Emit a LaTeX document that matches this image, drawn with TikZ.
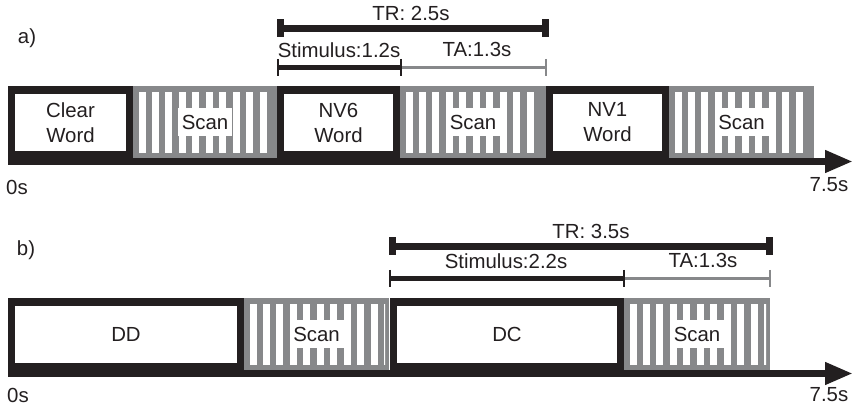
\documentclass[tikz,border=0pt]{standalone}
\usepackage{fontspec}
\setmainfont{Liberation Sans}
\usetikzlibrary{arrows.meta,calc}
\definecolor{inkblack}{HTML}{231F20}
\definecolor{scangray}{HTML}{87888A}

\begin{document}
\begin{tikzpicture}[x=0.5pt,y=-0.5pt,
  lbl/.style={font=\rmfamily\fontsize{10.2}{12.5}\selectfont,text=inkblack,inner sep=0pt},
  scanlbl/.style={lbl,fill=white,minimum width=27pt,minimum height=14pt},
  axisline/.style={inkblack,line width=3.5pt,-{Triangle[length=14pt,width=10.5pt]}},
  trbar/.style={inkblack,line width=3.5pt},
  stimbar/.style={inkblack,line width=2.5pt},
  tabar/.style={scangray,line width=1.8pt},
  tickline/.style={line width=1pt}]
  \useasboundingbox (0,0) rectangle (853,406);

  % time axes
  \coordinate (axa0) at (8,161.5);
  \coordinate (axa1) at (853,161.5);
  \coordinate (axb0) at (8,373.5);
  \coordinate (axb1) at (853,373.5);
  \draw[axisline] (axa0) -- (axa1);
  \draw[axisline] (axb0) -- (axb1);

  % stimulus blocks
  \foreach \xa/\xb/\yt/\nm/\txt in {
    8/133/86/clear/{Clear\\Word},
    277/400/86/nvsix/{NV6\\Word},
    546/669/86/nvone/{NV1\\Word},
    8/244/298/dd/{DD},
    390/624/298/dc/{DC}} {
    \fill[inkblack] (\xa,\yt) rectangle (\xb,\yt+79);
    \fill[white] (\xa+7,\yt+8) rectangle (\xb-7,\yt+65);
    \node[lbl,align=center] (\nm) at ({(\xa+\xb)/2},\yt+36.5) {\txt};
  }

  % scan blocks
  \foreach \xa/\xb/\yt/\n/\nm in {
    133/277/86/9/scanaone,
    400/546/86/9/scanatwo,
    669/814/86/9/scanathree,
    244/389/298/10/scanbone,
    624/770/298/10/scanbtwo} {
    \fill[scangray] (\xa,\yt) rectangle (\xb,\yt+72);
    \begin{scope}
      \clip (\xa,\yt) rectangle (\xb-4,\yt+72);
      \foreach \i in {0,...,\n}
        \fill[white] (\xa+5.5+13.45*\i,\yt+6) rectangle +(7,61);
    \end{scope}
    \node[scanlbl] (\nm) at ({(\xa+\xb)/2},\yt+36) {Scan};
  }

  % TR, stimulus and TA spans
  \foreach \p/\xa/\xm/\xb/\ytr/\ys/\tr/\st/\ta/\xtr/\xst/\xta in {
    a/277/401/549/28.5/67.5/{TR: 2.5s}/{Stimulus:1.2s}/{TA:1.3s}/411/339/477,
    b/389/624/773/246.5/278.5/{TR: 3.5s}/{Stimulus:2.2s}/{TA:1.3s}/591/506/703} {
    \coordinate (tr\p0) at (\xa,\ytr);
    \coordinate (tr\p1) at (\xb,\ytr);
    \coordinate (st\p0) at (\xa,\ys);
    \coordinate (st\p1) at (\xm,\ys);
    \coordinate (ta\p1) at (\xb-3,\ys);
    \draw[trbar] (tr\p0) -- (tr\p1);
    \fill[inkblack] ($(tr\p0)+(0,-9)$) rectangle ($(tr\p0)+(7,9)$);
    \fill[inkblack] ($(tr\p1)+(-7,-9)$) rectangle ($(tr\p1)+(0,9)$);
    \draw[tabar] (st\p1) -- (ta\p1);
    \draw[tickline,scangray] ($(ta\p1)+(0,-8.5)$) -- ($(ta\p1)+(0,8.5)$);
    \draw[stimbar] (st\p0) -- (st\p1);
    \draw[tickline,inkblack] ($(st\p0)+(1,-8.5)$) -- ($(st\p0)+(1,8.5)$);
    \draw[tickline,inkblack] ($(st\p1)+(0,-8.5)$) -- ($(st\p1)+(0,8.5)$);
    \node[lbl] (trlbl\p) at (\xtr,\ytr-15) {\tr};
    \node[lbl] (stlbl\p) at (\xst,\ys-17) {\st};
    \node[lbl] (talbl\p) at (\xta,\ys-18) {\ta};
  }

  % panel letters and axis ends
  \node[lbl] (pa) at (27,38) {a)};
  \node[lbl] (pb) at (26,250) {b)};
  \node[lbl] (zeroa) at (17,187) {0s};
  \node[lbl] (zerob) at (18,395) {0s};
  \node[lbl] (enda) at (829,185) {7.5s};
  \node[lbl] (endb) at (829,395) {7.5s};
\end{tikzpicture}
\end{document}
